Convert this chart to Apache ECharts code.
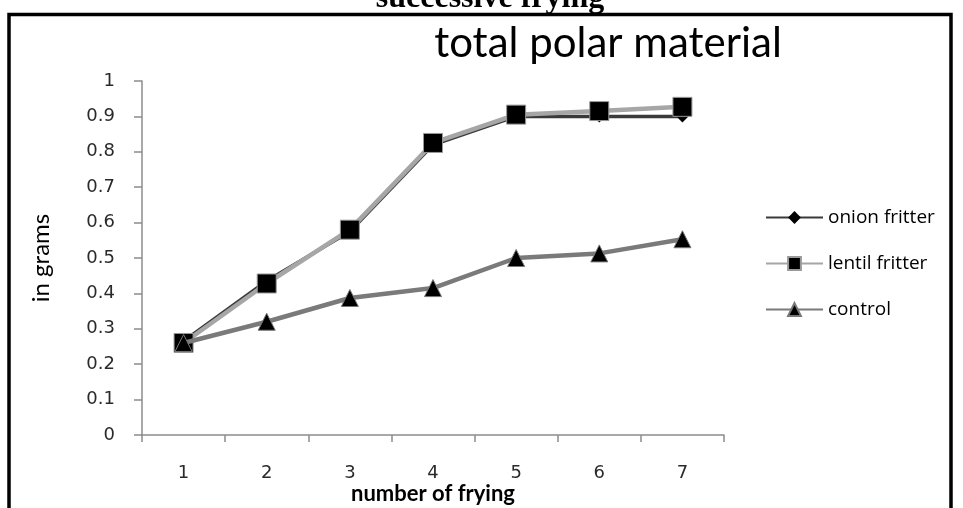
<!DOCTYPE html>
<html><head><meta charset="utf-8">
<script src="https://cdn.jsdelivr.net/npm/echarts@6/dist/echarts.min.js"></script>
<style>html,body{margin:0;padding:0;background:#fff}#c{width:963px;height:508px}</style>
</head><body><div id="c"></div>
<script>
const categories = ['1','2','3','4','5','6','7'];
const onionFritter = [0.265, 0.435, 0.575, 0.82, 0.90, 0.90, 0.90];
const lentilFritter = [0.26, 0.428, 0.58, 0.825, 0.905, 0.915, 0.927];
const control = [0.26, 0.32, 0.387, 0.415, 0.50, 0.513, 0.553];
const seriesNames = ['onion fritter', 'lentil fritter', 'control'];

const chart = echarts.init(document.getElementById('c'));
const labelFont = {fontFamily: 'DejaVu Sans', fontSize: 18, color: '#2a2a2a'};
chart.setOption({
  animation: false,
  backgroundColor: '#fff',
  title: [
    {text: 'total polar material', left: 608, top: 22, textAlign: 'center', padding: 0,
     textStyle: {fontFamily: 'Lato', fontSize: 42, fontWeight: 'normal', color: '#000'}},
    {text: 'successive frying', left: 490, top: -17, textAlign: 'center', padding: 0,
     textStyle: {fontFamily: 'Liberation Serif', fontSize: 32, fontWeight: 'bold', color: '#000'}}
  ],
  graphic: [{type: 'rect', shape: {x: 9, y: 14.5, width: 942, height: 520},
    style: {fill: 'none', stroke: '#000', lineWidth: 3.5}, silent: true}],
  grid: {left: 142, right: 239, top: 81, bottom: 73, containLabel: false, outerBoundsMode: 'none'},
  legend: {
    orient: 'vertical', left: 760, top: 203, itemWidth: 57, itemHeight: 16, itemGap: 27,
    data: seriesNames,
    textStyle: {fontFamily: 'Open Sans', fontSize: 19, color: '#000', padding: [0,0,0,0]}
  },
  xAxis: {
    type: 'category', data: categories, boundaryGap: true,
    name: 'number of frying', nameLocation: 'middle', nameGap: 48, nameMoveOverlap: false,
    nameTextStyle: {fontFamily: 'Lato', fontSize: 22, fontWeight: 'bold', color: '#000'},
    axisLine: {lineStyle: {color: '#8c8c8c', width: 1.5}},
    axisTick: {show: true, length: 7, lineStyle: {color: '#8c8c8c', width: 1.5}},
    axisLabel: Object.assign({margin: 29}, labelFont),
    splitLine: {show: false}
  },
  yAxis: {
    type: 'value', min: 0, max: 1, interval: 0.1,
    name: 'in grams', nameLocation: 'middle', nameGap: 89, nameRotate: 90, nameMoveOverlap: false,
    nameTextStyle: {fontFamily: 'Lato', fontSize: 24, color: '#000'},
    axisLine: {show: true, lineStyle: {color: '#8c8c8c', width: 1.5}},
    axisTick: {show: true, length: 8, lineStyle: {color: '#8c8c8c', width: 1.5}},
    axisLabel: Object.assign({margin: 27, formatter: v => String(Math.round(v*10)/10)}, labelFont),
    splitLine: {show: false}
  },
  series: [
    {name: seriesNames[0], type: 'line', data: onionFritter, z: 2,
     symbol: 'diamond', symbolSize: 12,
     lineStyle: {color: '#3a3a3a', width: 3.5},
     itemStyle: {color: '#000', borderColor: '#000', borderWidth: 0}},
    {name: seriesNames[1], type: 'line', data: lentilFritter, z: 3,
     symbol: 'rect', symbolSize: 19,
     lineStyle: {color: '#a6a6a6', width: 4.5},
     itemStyle: {color: '#000', borderColor: '#999', borderWidth: 1}},
    {name: seriesNames[2], type: 'line', data: control, z: 4,
     symbol: 'triangle', symbolSize: 17,
     lineStyle: {color: '#7a7a7a', width: 4.5},
     itemStyle: {color: '#000', borderColor: '#777', borderWidth: 1}}
  ]
});
</script></body></html>
